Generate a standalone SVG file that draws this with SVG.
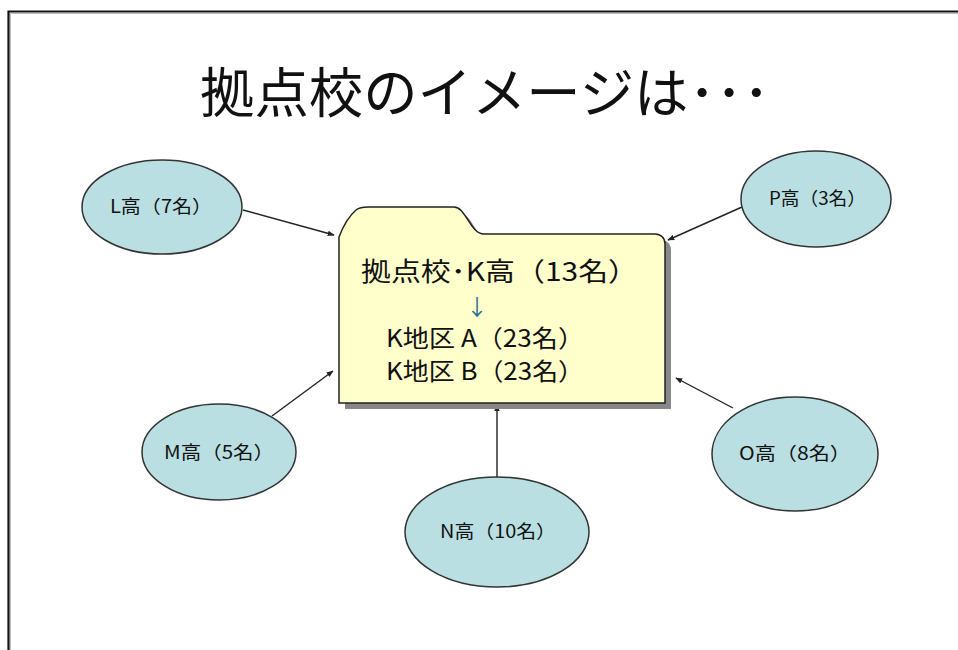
<svg xmlns="http://www.w3.org/2000/svg" width="958" height="650" viewBox="0 0 958 650">
<style>
.jp{font-family:"Noto Sans CJK JP","Liberation Sans",sans-serif;fill:#111}
.node ellipse{fill:#B9DFE2;stroke:#333;stroke-width:1.5}
.lbl{font-size:18px}
.conn line{stroke:#222;stroke-width:1.4;marker-end:url(#ah)}
</style>
<defs>
<marker id="ah" viewBox="0 0 10 10" refX="9" refY="5" markerWidth="7" markerHeight="7" orient="auto" markerUnits="userSpaceOnUse">
<path d="M0,1 L10,5 L0,9 z" fill="#222"/>
</marker>
</defs>
<rect width="958" height="650" fill="#fff"/>
<g id="frame">
<path d="M8.5,650 V11.5 H958" fill="none" stroke="#111" stroke-width="2.2"/>
<path d="M10.5,650 V13.5 H958" fill="none" stroke="#bbb" stroke-width="1"/>
</g>
<text id="title" class="jp" x="200" y="113" font-size="54" textLength="570" lengthAdjust="spacingAndGlyphs">拠点校のイメージは･･･</text>
<g class="conn" id="connectors">
<line x1="243" y1="210" x2="334" y2="235"/>
<line x1="742" y1="207" x2="668" y2="240"/>
<line x1="272" y1="416" x2="333" y2="371"/>
<line x1="733" y1="408" x2="676" y2="378"/>
<line x1="497" y1="477" x2="497" y2="405"/>
</g>
<g id="center">
<path d="M345,243 C350,230 355,222 362,216 C366,213 370,213 374,213 L460,213 C472,213 476,240 490,240 L661,240 C667,240 671,244 671,250 L671,409 L345,409 Z" fill="#888"/>
<path d="M339,237 C344,224 349,216 356,210 C360,207 364,207 368,207 L454,207 C466,207 470,234 484,234 L655,234 C661,234 665,238 665,244 L665,403 L339,403 Z" fill="#FFFFCC" stroke="#222" stroke-width="1.5"/>
<text class="jp" x="361" y="281" font-size="26" textLength="277" lengthAdjust="spacingAndGlyphs">拠点校･K高（13名）</text>
<text class="jp" x="477" y="315" font-size="22" text-anchor="middle" style="fill:#2b6f8f">↓</text>
<text class="jp" x="386" y="347" font-size="24" textLength="198" lengthAdjust="spacingAndGlyphs">K地区 A（23名）</text>
<text class="jp" x="386" y="380" font-size="24" textLength="198" lengthAdjust="spacingAndGlyphs">K地区 B（23名）</text>
</g>
<g class="node" id="L"><ellipse cx="162" cy="207" rx="80" ry="47"/><text class="jp lbl" x="110" y="213" textLength="102" lengthAdjust="spacingAndGlyphs">L高（7名）</text></g>
<g class="node" id="P"><ellipse cx="816" cy="199" rx="75" ry="48"/><text class="jp lbl" x="769" y="205" textLength="97" lengthAdjust="spacingAndGlyphs">P高（3名）</text></g>
<g class="node" id="M"><ellipse cx="219" cy="452" rx="77" ry="48"/><text class="jp lbl" x="164" y="459" textLength="110" lengthAdjust="spacingAndGlyphs">M高（5名）</text></g>
<g class="node" id="O"><ellipse cx="795" cy="454" rx="83" ry="57"/><text class="jp lbl" x="739" y="460" textLength="112" lengthAdjust="spacingAndGlyphs">O高（8名）</text></g>
<g class="node" id="N"><ellipse cx="497" cy="532" rx="92" ry="55"/><text class="jp lbl" x="440" y="538" textLength="116" lengthAdjust="spacingAndGlyphs">N高（10名）</text></g>
</svg>
